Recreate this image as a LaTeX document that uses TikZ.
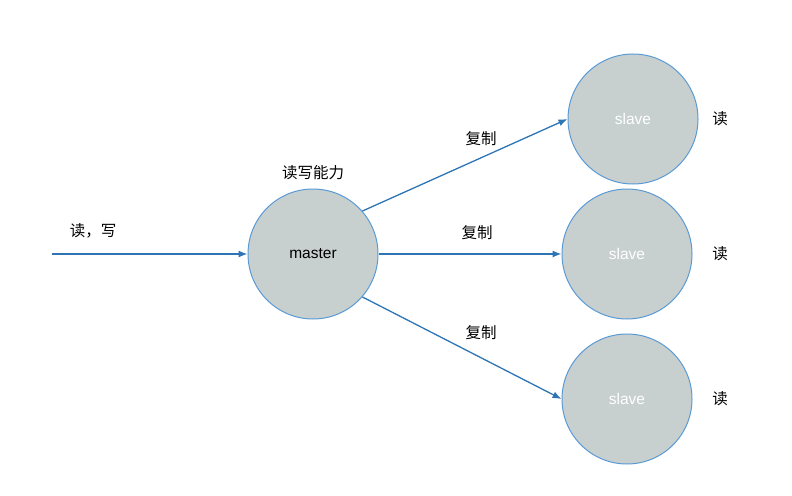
\documentclass[tikz,border=0pt]{standalone}
\usepackage{fontspec}
\usetikzlibrary{arrows.meta}
\setmainfont{Liberation Sans}
\newfontfamily\cjk{Noto Sans CJK SC}
\definecolor{nodefill}{HTML}{C8CFCF}
\definecolor{nodeline}{HTML}{5B9BD5}
\definecolor{linkcol}{HTML}{2E75B6}
\tikzset{
    server/.style={circle, draw=nodeline, line width=1pt, fill=nodefill, minimum size=130pt, inner sep=0pt, font=\fontsize{15.5}{18}\selectfont},
    link/.style={-{Latex[length=9pt,width=7pt]}, draw=linkcol, fill=linkcol, line width=1.3pt},
    lbl/.style={font=\cjk\fontsize{15.5}{18}\selectfont}
}
\begin{document}
\begin{tikzpicture}[x=1pt, y=-1pt]
\useasboundingbox (0,0) rectangle (792,495);
    \node[server] (master) at (313,254) {master};
    \node[server, text=white] (s1) at (633,119) {slave};
    \node[server, text=white] (s2) at (627,254) {slave};
    \node[server, text=white] (s3) at (627,399) {slave};
    \coordinate (in) at (52,254);
    \draw[link] (in)--(master.west);
    \draw[link] (master.41)--(s1.west);
    \draw[link] (master.east)--(s2.west);
    \draw[link] (master.-41)--(s3.west);
    \node[lbl] (rw) at (93,231) {读，写};
    \node[lbl] (cap) at (313,173) {读写能力};
    \node[lbl] (c1) at (481,139) {复制};
    \node[lbl] (c2) at (477,233) {复制};
    \node[lbl] (c3) at (481,333) {复制};
    \foreach \i/\y in {1/119,2/254,3/399}
    {
        \node[lbl] (r\i) at (720,\y) {读};
    }
\end{tikzpicture}
\end{document}
